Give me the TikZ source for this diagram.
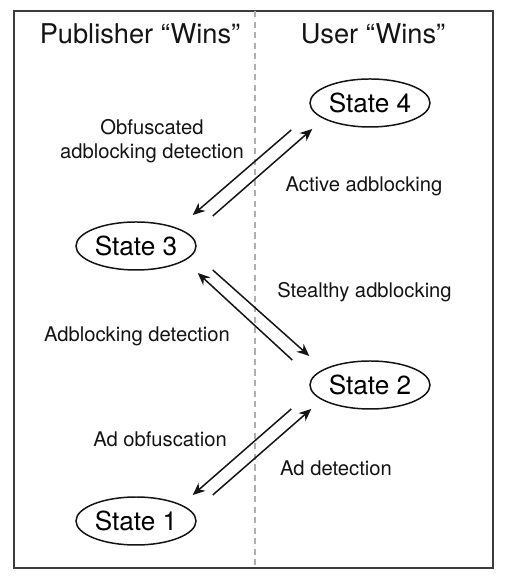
\documentclass[tikz,border=0pt]{standalone}
\usepackage{fontspec}
\setmainfont{TeX Gyre Heros}
\usepackage{xcolor}
\usepackage{tikz}
\usetikzlibrary{shapes.geometric, arrows.meta, positioning, calc}
\definecolor{mydark}{RGB}{20,20,20}
\definecolor{myframe}{RGB}{60,60,60}
\definecolor{mygrey}{RGB}{175,175,175}
\tikzset{
  state/.style={ellipse, draw=mydark, line width=0.85pt, inner sep=0pt,
    minimum width=2.4cm, minimum height=0.96cm,
    font=\fontsize{14.9}{17}\selectfont},
  title/.style={font=\fontsize{15.5}{18}\selectfont, color=mydark},
  label/.style={font=\fontsize{11.5}{13.6}\selectfont, color=mydark, align=center},
  arrow/.style={-{Stealth[length=7pt, width=6pt]}, line width=0.85pt, color=mydark},
  line/.style={line width=0.85pt, color=mydark}
}

\begin{document}
\begin{tikzpicture}
  \useasboundingbox (0,0) rectangle (10.14,11.64);

  % Frame and divider
  \draw[draw=myframe, line width=1.1pt] (0.28,0.28) rectangle (9.86,11.42);
  \draw[draw=mygrey, line width=0.6pt, dash pattern=on 3.5pt off 2.5pt] (5.1,11.42) -- (5.1,0.28);

  % Headings
  \node[title] (pub) at (2.80, 10.96) {Publisher “Wins”};
  \node[title] (usr) at (7.46, 10.96) {User “Wins”};

  % States
  \node[state] (s4) at (7.40, 9.58) {State 4};
  \node[state] (s3) at (2.72, 6.72) {State 3};
  \node[state] (s2) at (7.40, 3.94) {State 2};
  \node[state] (s1) at (2.72, 1.22) {State 1};

  % Transitions
  \draw[arrow] ([shift={(-0.36,-0.54)}]s4.west) -- ([shift={(-0.08,0.62)}]s3.east);
  \draw[arrow] ([shift={(0.32,0.60)}]s3.east) -- ([shift={(0.06,-0.52)}]s4.west);

  \draw[arrow] ([shift={(-0.34,0.50)}]s2.west) -- ([shift={(0.02,-0.54)}]s3.east);
  \draw[arrow] ([shift={(0.32,-0.48)}]s3.east) -- ([shift={(0,0.58)}]s2.west);

  \draw[arrow] ([shift={(-0.36,-0.48)}]s2.west) -- ([shift={(-0.08,0.52)}]s1.east);
  \draw[arrow] ([shift={(0.32,0.52)}]s1.east) -- ([shift={(0.04,-0.48)}]s2.west);

  % Labels
  \node[label] (obf) at (3.04, 8.82) {Obfuscated\\adblocking detection};
  \node[label] (act) at (7.28, 7.92) {Active adblocking};
  \node[label] (stl) at (7.29, 5.80) {Stealthy adblocking};
  \node[label] (det) at (2.74, 4.92) {Adblocking detection};
  \node[label] (aob) at (3.20, 2.86) {Ad obfuscation};
  \node[label] (adt) at (6.72, 2.28) {Ad detection};
\end{tikzpicture}
\end{document}
